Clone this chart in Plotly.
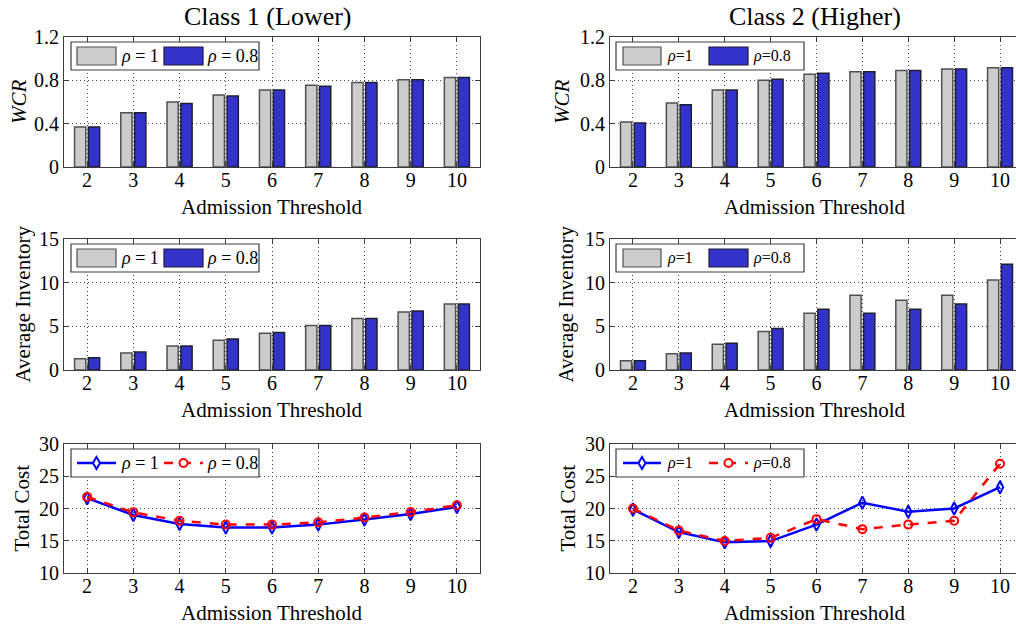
import plotly.graph_objects as go

# ---------------- data ----------------
thresholds = [2, 3, 4, 5, 6, 7, 8, 9, 10]

wcr_c1_rho1 = [0.37, 0.50, 0.60, 0.665, 0.71, 0.755, 0.78, 0.805, 0.825]
wcr_c1_rho08 = [0.37, 0.50, 0.585, 0.655, 0.71, 0.745, 0.78, 0.805, 0.825]
wcr_c2_rho1 = [0.415, 0.59, 0.71, 0.80, 0.855, 0.88, 0.89, 0.905, 0.915]
wcr_c2_rho08 = [0.405, 0.575, 0.71, 0.81, 0.865, 0.88, 0.89, 0.905, 0.915]

inv_c1_rho1 = [1.3, 1.95, 2.75, 3.4, 4.2, 5.1, 5.9, 6.65, 7.55]
inv_c1_rho08 = [1.4, 2.05, 2.75, 3.55, 4.3, 5.1, 5.9, 6.75, 7.55]
inv_c2_rho1 = [1.05, 1.85, 2.95, 4.4, 6.5, 8.55, 8.0, 8.55, 10.3]
inv_c2_rho08 = [1.05, 1.95, 3.05, 4.75, 6.95, 6.5, 6.95, 7.55, 12.1]

cost_c1_rho1 = [21.6, 19.0, 17.6, 17.05, 17.05, 17.5, 18.3, 19.15, 20.25]
cost_c1_rho08 = [21.8, 19.4, 18.1, 17.5, 17.5, 17.85, 18.6, 19.45, 20.5]
cost_c2_rho1 = [19.85, 16.35, 14.75, 14.95, 17.5, 20.9, 19.5, 20.0, 23.3]
cost_c2_rho08 = [20.0, 16.6, 14.95, 15.45, 18.35, 16.8, 17.5, 18.1, 26.95]

col_titles = ["Class 1 (Lower)", "Class 2 (Higher)"]
row_ytitles = ["<i>WCR</i>", "Average Inventory", "Total Cost"]
xtitle = "Admission Threshold"
y_ticks = [[0, 0.4, 0.8, 1.2], [0, 5, 10, 15], [10, 15, 20, 25, 30]]
y_ticktext = [["0", "0.4", "0.8", "1.2"], ["0", "5", "10", "15"], ["10", "15", "20", "25", "30"]]
y_ranges = [[0, 1.2], [0, 15], [10, 30]]
series_labels = ["\u03c1 = 1", "\u03c1 = 0.8"]

# ---------------- style ----------------
W, H = 1016, 626
FONT = "Liberation Serif, Times New Roman, Times, DejaVu Serif, serif"
GREY = "rgb(204,204,204)"
BLUE = "rgb(51,51,204)"
LBLUE = "rgb(0,0,255)"
LRED = "rgb(255,0,0)"
AXC = "rgb(60,60,60)"
GRIDC = "rgb(70,70,70)"
GRIDDASH = "1px,3px"

def px(x):
    return x / W

def py(y):
    return 1 - y / H

col_px = [(64, 480), (610, 1016)]
row_px = [(37, 167), (239, 370), (444, 573)]
x_ranges = [[1.5, 10.5], [1.5, 1.5 + (1016 - 609) / 46.0]]
xtitle_cx = [272, 815]
ytitle_x = [[19, 22, 21], [562, 565, 567]]

fig = go.Figure()

bar_data = [
    [(wcr_c1_rho1, wcr_c1_rho08), (wcr_c2_rho1, wcr_c2_rho08)],
    [(inv_c1_rho1, inv_c1_rho08), (inv_c2_rho1, inv_c2_rho08)],
]
line_data = [(cost_c1_rho1, cost_c1_rho08), (cost_c2_rho1, cost_c2_rho08)]

layout_axes = {}
shapes = []
annotations = []

for r in range(3):
    for c in range(2):
        idx = r * 2 + c + 1
        xa = "x" if idx == 1 else f"x{idx}"
        ya = "y" if idx == 1 else f"y{idx}"
        xkey = "xaxis" if idx == 1 else f"xaxis{idx}"
        ykey = "yaxis" if idx == 1 else f"yaxis{idx}"
        x0, x1 = col_px[c]
        t, b = row_px[r]
        layout_axes[xkey] = dict(
            domain=[px(x0), px(x1)], anchor=ya, range=x_ranges[c], automargin=False,
            tickmode="array", tickvals=thresholds, ticktext=[str(v) for v in thresholds],
            ticks="inside", ticklen=5, tickcolor=AXC, showline=True, linecolor=AXC,
            linewidth=1, mirror="allticks", showgrid=True, gridcolor=GRIDC,
            griddash=GRIDDASH, gridwidth=1, zeroline=False, ticklabelstandoff=-5,
            tickfont=dict(family=FONT, size=20, color="black"),
        )
        layout_axes[ykey] = dict(
            domain=[py(b), py(t)], anchor=xa, range=y_ranges[r], automargin=False,
            tickmode="array", tickvals=y_ticks[r], ticktext=y_ticktext[r],
            ticks="inside", ticklen=5, tickcolor=AXC, showline=True, linecolor=AXC,
            linewidth=1, mirror=("allticks" if c == 0 else False), showgrid=True,
            gridcolor=GRIDC, griddash=GRIDDASH, gridwidth=1, zeroline=False,
            tickfont=dict(family=FONT, size=20, color="black"),
        )
        # axis titles
        annotations.append(dict(xref="paper", yref="paper", x=px(xtitle_cx[c]), y=py(b + 40),
                                text=xtitle, showarrow=False, xanchor="center", yanchor="middle",
                                borderpad=0, font=dict(family=FONT, size=21, color="black")))
        annotations.append(dict(xref="paper", yref="paper", x=px(ytitle_x[c][r]), y=py((t + b) / 2),
                                text=row_ytitles[r], showarrow=False, textangle=-90,
                                xanchor="center", yanchor="middle", borderpad=0,
                                font=dict(family=FONT, size=21, color="black")))
        if r < 2:
            v1, v2 = bar_data[r][c]
            fig.add_trace(go.Bar(x=thresholds, y=v1, name=series_labels[0], xaxis=xa, yaxis=ya,
                                 marker=dict(color=GREY, line=dict(color="rgb(80,80,80)", width=1.5)),
                                 showlegend=False, offsetgroup="a"))
            fig.add_trace(go.Bar(x=thresholds, y=v2, name=series_labels[1], xaxis=xa, yaxis=ya,
                                 marker=dict(color=BLUE, line=dict(color="rgb(30,30,50)", width=1.5)),
                                 showlegend=False, offsetgroup="b"))
        else:
            v1, v2 = line_data[c]
            fig.add_trace(go.Scatter(x=thresholds, y=v1, name=series_labels[0], xaxis=xa, yaxis=ya,
                                     mode="lines+markers", line=dict(color=LBLUE, width=2.5),
                                     marker=dict(symbol="diamond-tall-open", size=9, color=LBLUE,
                                                 line=dict(width=2, color=LBLUE)),
                                     showlegend=False))
            fig.add_trace(go.Scatter(x=thresholds, y=v2, name=series_labels[1], xaxis=xa, yaxis=ya,
                                     mode="lines+markers", line=dict(color=LRED, width=2.5, dash="dash"),
                                     marker=dict(symbol="circle-open", size=8, color=LRED,
                                                 line=dict(width=2, color=LRED)),
                                     showlegend=False))

        # ---- legend box (drawn manually to mimic MATLAB legend) ----
        if c == 0:
            bx0, bx1 = 71, 259
            sw = [(77, 116), (164, 203)]
            tx = [119, 205]
            lbl = ["<i>\u03c1</i> = 1", "<i>\u03c1</i> = 0.8"]
            fsz = 18
        else:
            bx0, bx1 = 616, 804
            sw = [(623, 661), (709, 748)]
            tx = [665, 751]
            lbl = ["<i>\u03c1</i>=1", "<i>\u03c1</i>=0.8"]
            fsz = 16
        by0, by1 = t + 5, t + 33
        shapes.append(dict(type="rect", xref="paper", yref="paper", x0=px(bx0), x1=px(bx1),
                           y0=py(by1), y1=py(by0), line=dict(color=AXC, width=1.2),
                           fillcolor="white", layer="above"))
        ym = (by0 + by1) / 2
        if r < 2:
            for (s0, s1), fc, lc in zip(sw, [GREY, BLUE], ["rgb(80,80,80)", "rgb(30,30,50)"]):
                shapes.append(dict(type="rect", xref="paper", yref="paper", x0=px(s0), x1=px(s1),
                                   y0=py(ym + 9), y1=py(ym - 9), line=dict(color=lc, width=1.2),
                                   fillcolor=fc, layer="above"))
        else:
            for k, ((s0, s1), lc, dash) in enumerate(zip(sw, [LBLUE, LRED], ["solid", "dash"])):
                shapes.append(dict(type="line", xref="paper", yref="paper", x0=px(s0), x1=px(s1),
                                   y0=py(ym), y1=py(ym), line=dict(color=lc, width=2.5, dash=dash),
                                   layer="above"))
                mx = (s0 + s1) / 2
                if k == 0:
                    path = (f"M {px(mx)} {py(ym - 6)} L {px(mx + 3.5)} {py(ym)} "
                            f"L {px(mx)} {py(ym + 6)} L {px(mx - 3.5)} {py(ym)} Z")
                    shapes.append(dict(type="path", xref="paper", yref="paper", path=path,
                                       line=dict(color=lc, width=2), fillcolor="white", layer="above"))
                else:
                    shapes.append(dict(type="circle", xref="paper", yref="paper",
                                       x0=px(mx - 4), x1=px(mx + 4), y0=py(ym + 4), y1=py(ym - 4),
                                       line=dict(color=lc, width=2), fillcolor="white", layer="above"))
        for xt, tt in zip(tx, lbl):
            annotations.append(dict(xref="paper", yref="paper", x=px(xt), y=py(ym), text=tt,
                                    showarrow=False, xanchor="left", yanchor="middle",
                                    font=dict(family=FONT, size=fsz, color="black")))

# column titles
for c, tt in enumerate(col_titles):
    cx = [268, 815][c]
    annotations.append(dict(xref="paper", yref="paper", x=px(cx), y=py(17), text=tt,
                            showarrow=False, xanchor="center", yanchor="middle",
                            font=dict(family=FONT, size=26, color="black")))

fig.update_layout(
    width=W, height=H, margin=dict(l=0, r=0, t=0, b=0, autoexpand=False),
    paper_bgcolor="white", plot_bgcolor="white",
    barmode="group", bargap=0.4, bargroupgap=0.19,
    shapes=shapes, annotations=annotations, showlegend=False,
    **layout_axes,
)

fig.write_html("out.html")
